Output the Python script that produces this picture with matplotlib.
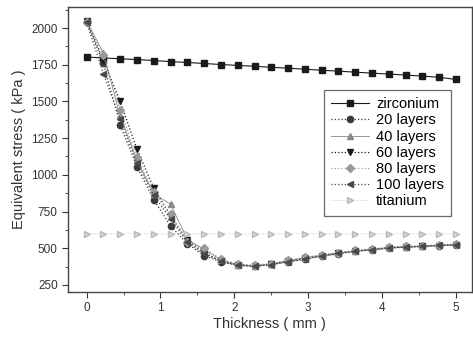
import matplotlib
matplotlib.use('Agg')
import matplotlib.pyplot as plt
from matplotlib.ticker import MultipleLocator

plt.rcParams['font.family'] = ['Liberation Sans', 'DejaVu Sans']

thickness = [0, 0.227, 0.455, 0.682, 0.909, 1.136, 1.364, 1.591, 1.818, 2.045, 2.273, 2.5,
             2.727, 2.955, 3.182, 3.409, 3.636, 3.864, 4.091, 4.318, 4.545, 4.773, 5.0]

zirconium = [1803, 1797, 1791, 1786, 1779, 1772, 1766, 1759, 1752, 1746, 1740, 1733,
             1727, 1720, 1713, 1707, 1700, 1693, 1687, 1680, 1673, 1665, 1650]
layers20 = [2040, 1760, 1340, 1055, 830, 652, 530, 450, 405, 385, 378, 390,
            405, 425, 445, 462, 478, 488, 500, 507, 512, 518, 522]
layers40 = [2050, 1830, 1400, 1100, 870, 800, 560, 490, 420, 388, 380, 393,
            415, 435, 452, 468, 482, 492, 505, 510, 515, 520, 526]
layers60 = [2050, 1780, 1500, 1175, 910, 720, 555, 470, 410, 383, 376, 390,
            410, 430, 448, 465, 480, 490, 502, 508, 512, 518, 522]
layers80 = [2045, 1820, 1440, 1120, 880, 730, 545, 500, 425, 390, 383, 395,
            418, 438, 455, 470, 485, 495, 507, 512, 517, 522, 527]
layers100 = [2040, 1690, 1380, 1080, 860, 700, 540, 460, 415, 386, 378, 388,
             408, 428, 447, 464, 480, 490, 503, 508, 513, 519, 524]
titanium = [598, 600, 597, 599, 596, 598, 597, 599, 598, 596, 597, 598,
            597, 599, 598, 597, 596, 598, 597, 599, 598, 597, 598]

fig = plt.figure(figsize=(4.73, 3.41), dpi=100)
ax = fig.add_axes([0.144, 0.144, 0.853, 0.835])

ax.plot(thickness, zirconium, '-', color='#1a1a1a', lw=0.8, marker='s', ms=4.5, label='zirconium')
ax.plot(thickness, layers20, ':', color='#3a3a3a', lw=0.9, marker='o', ms=4.5, label='20 layers')
ax.plot(thickness, layers40, '-', color='#8a8a8a', lw=0.6, marker='^', ms=4.5, label='40 layers')
ax.plot(thickness, layers60, ':', color='#1a1a1a', lw=0.9, marker='v', ms=5, label='60 layers')
ax.plot(thickness, layers80, ':', color='#9a9a9a', lw=0.9, marker='D', ms=4, label='80 layers')
ax.plot(thickness, layers100, ':', color='#4a4a4a', lw=0.9, marker='<', ms=5, label='100 layers')
ax.plot(thickness, titanium, ':', color='#c4c4c4', lw=0.6, marker='>', ms=4.5,
        mfc='#d8d8d8', mec='#b8b8b8', label='titanium')

ax.set_xlim(-0.25, 5.21)
ax.set_ylim(202, 2143)
ax.xaxis.set_major_locator(MultipleLocator(1))
ax.xaxis.set_minor_locator(MultipleLocator(0.5))
ax.yaxis.set_major_locator(MultipleLocator(250))
ax.yaxis.set_minor_locator(MultipleLocator(125))
ax.tick_params(which='both', direction='out', top=False, right=False, labelsize=8.5, colors='#333333')
ax.tick_params(which='major', length=4)
ax.tick_params(which='minor', length=2.5)
for s in ax.spines.values():
    s.set_color('#444444')
    s.set_linewidth(1.0)

ax.set_xlabel('Thickness ( mm )', fontsize=10.5, color='#333333', labelpad=2)
ax.set_ylabel('Equivalent stress ( kPa )', fontsize=10.5, color='#333333')

leg = ax.legend(loc='upper right', bbox_to_anchor=(0.950, 0.709), borderaxespad=0,
                fontsize=10.5, frameon=True, fancybox=False, edgecolor='#444444',
                handlelength=2.6, borderpad=0.5, labelspacing=0.15, handletextpad=0.5)
leg.get_frame().set_linewidth(0.9)

fig.savefig('out.png', dpi=100)
